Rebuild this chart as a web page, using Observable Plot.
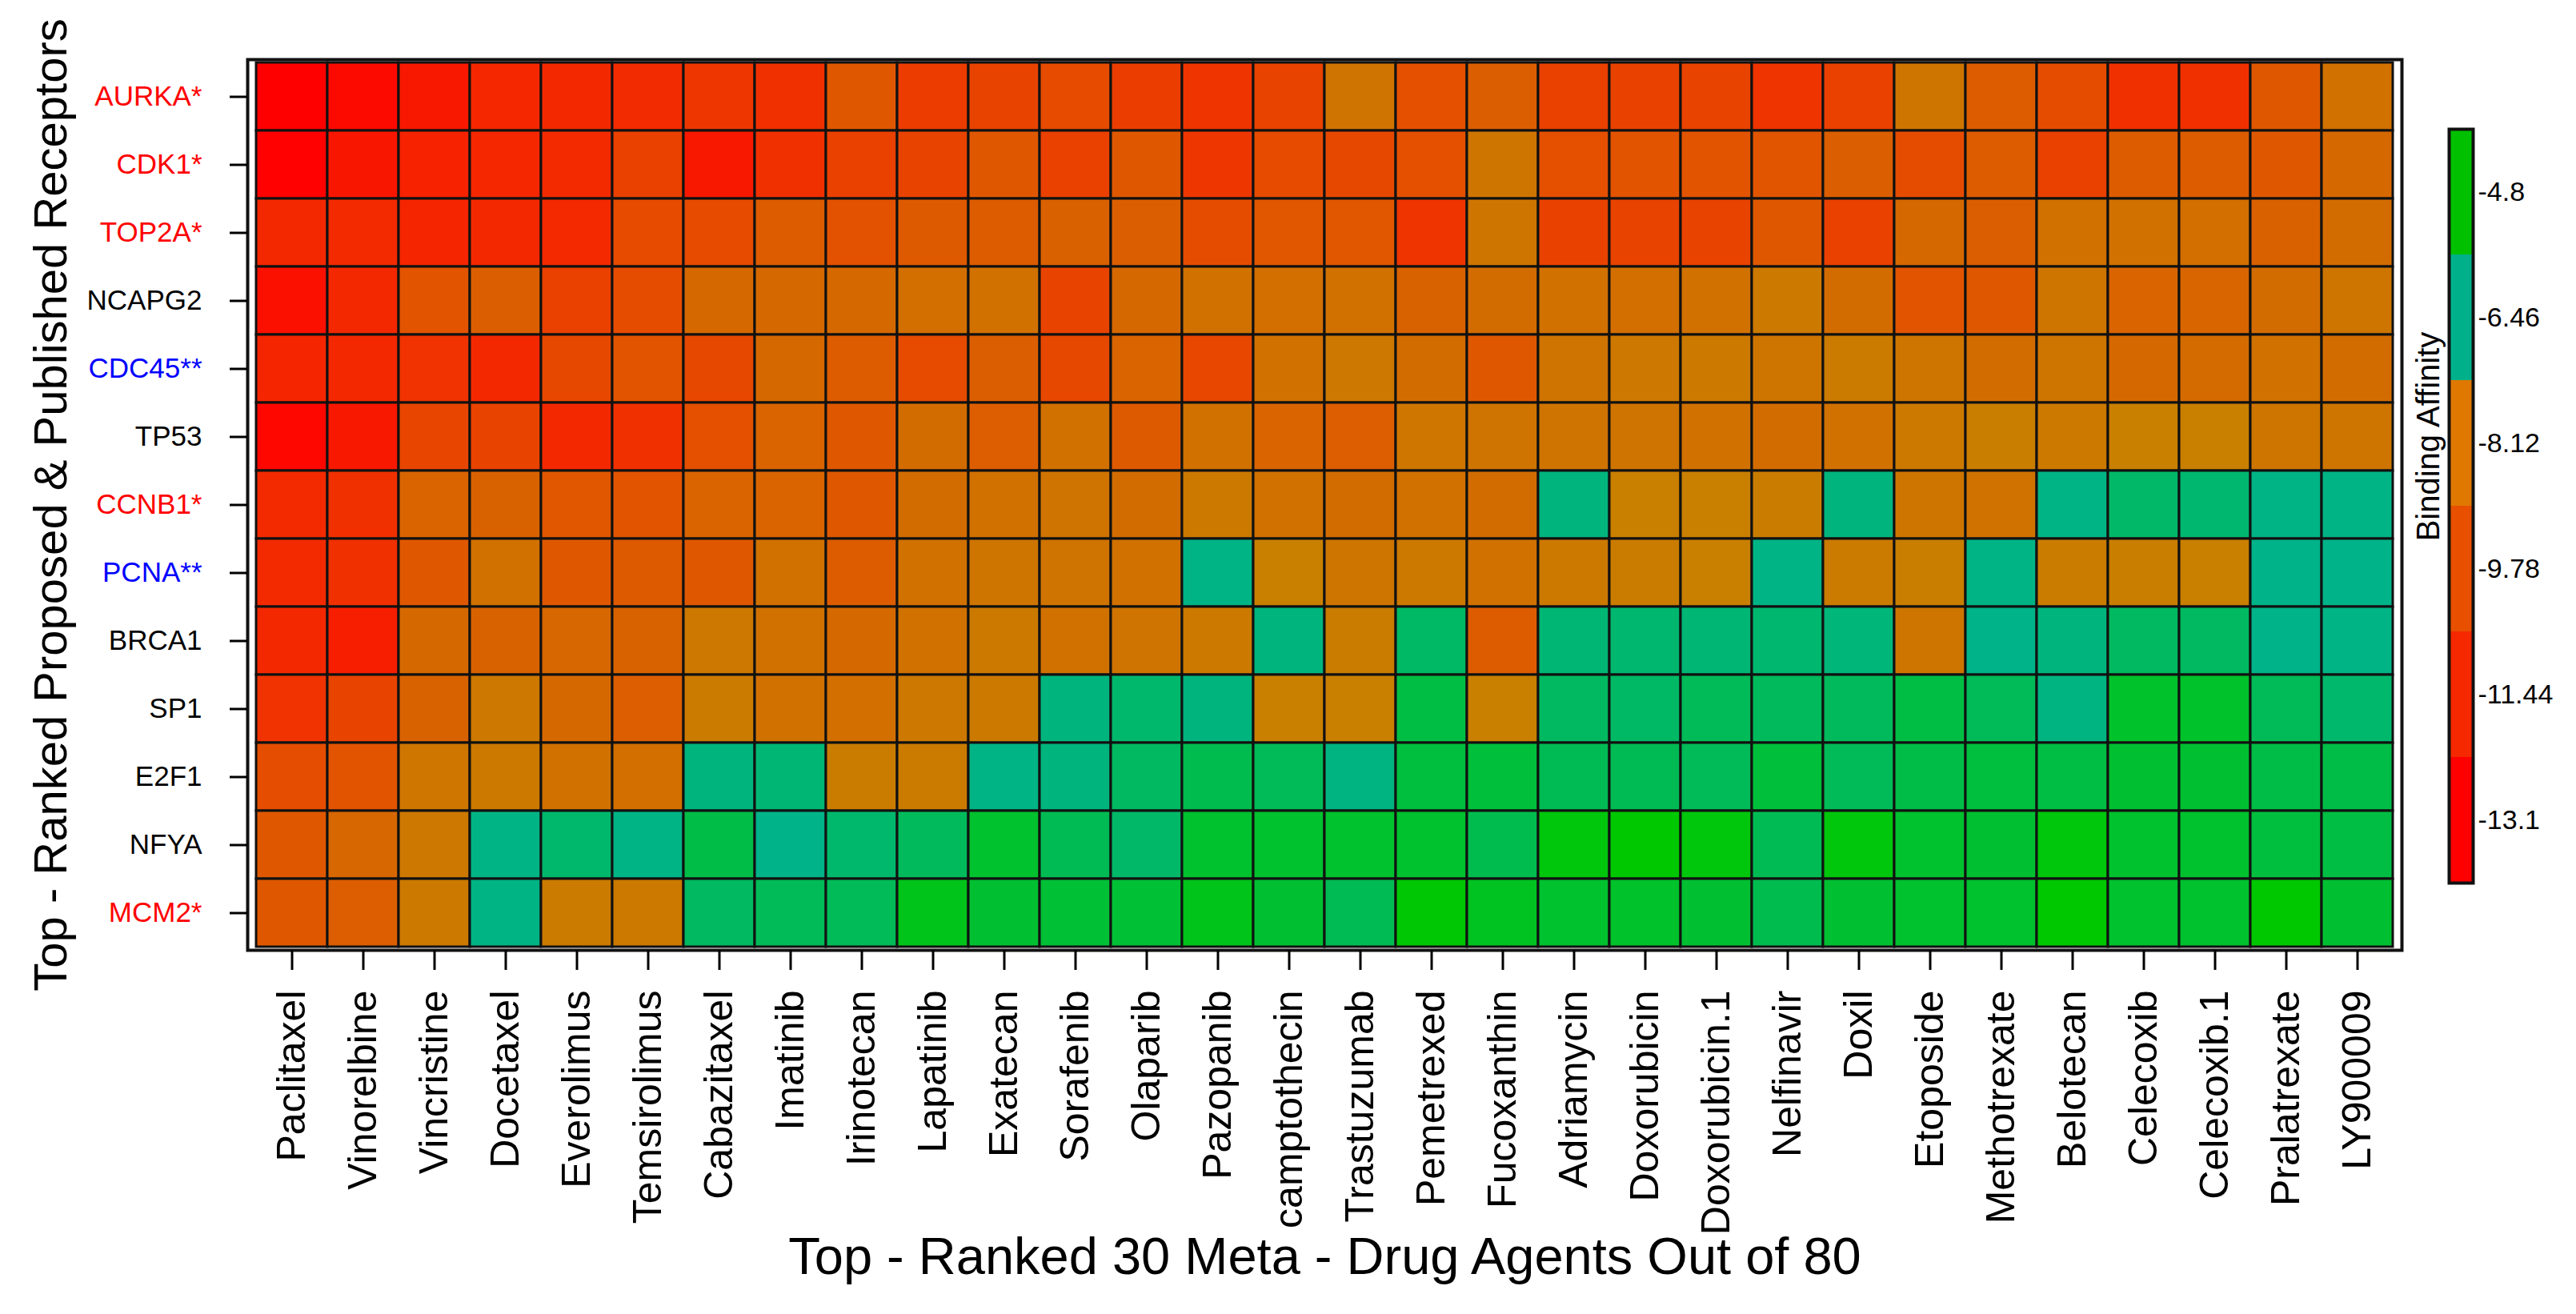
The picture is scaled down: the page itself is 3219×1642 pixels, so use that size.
<!DOCTYPE html>
<html>
<head>
<meta charset="utf-8">
<script src="https://cdn.jsdelivr.net/npm/d3@7"></script>
<script src="https://cdn.jsdelivr.net/npm/@observablehq/plot@0.6"></script>
<style>
html, body { margin: 0; padding: 0; background: #fff; }
#wrap { position: relative; width: 3219px; height: 1642px; overflow: hidden; background: #fff; }
#main { position: absolute; left: 0; top: 0; width: 3010px; }
#legend { position: absolute; left: 3000px; top: 0; width: 219px; }
</style>
</head>
<body>
<div id="wrap"><div id="main"></div><div id="legend"></div></div>
<script>
const drugs = ["Paclitaxel","Vinorelbine","Vincristine","Docetaxel","Everolimus","Temsirolimus","Cabazitaxel","Imatinib","Irinotecan","Lapatinib","Exatecan","Sorafenib","Olaparib","Pazopanib","camptothecin","Trastuzumab","Pemetrexed","Fucoxanthin","Adriamycin","Doxorubicin","Doxorubicin.1","Nelfinavir","Doxil","Etoposide","Methotrexate","Belotecan","Celecoxib","Celecoxib.1","Pralatrexate","LY900009"];

const receptors = ["AURKA*","CDK1*","TOP2A*","NCAPG2","CDC45**","TP53","CCNB1*","PCNA**","BRCA1","SP1","E2F1","NFYA","MCM2*"];

const redLabels = ["AURKA*","CDK1*","TOP2A*","CCNB1*","MCM2*"];
const blueLabels = ["CDC45**","PCNA**"];
const blackLabels = ["NCAPG2","TP53","BRCA1","SP1","E2F1","NFYA"];

const aurka  = [-13.1,-12.7,-12.1,-11.5,-11.45,-11.3,-10.8,-11.1,-9.5,-10.6,-10.3,-10.0,-10.55,-10.95,-10.3,-8.55,-9.8,-9.25,-10.45,-10.35,-10.3,-10.95,-10.45,-8.5,-9.35,-9.95,-11.1,-11.1,-9.5,-8.65];
const cdk1   = [-13.05,-12.2,-11.7,-11.5,-11.35,-10.45,-12.1,-11.1,-10.45,-10.3,-9.5,-10.45,-9.5,-10.8,-10.0,-10.1,-9.8,-8.5,-9.8,-9.65,-9.65,-9.6,-9.25,-9.95,-9.35,-10.45,-9.35,-9.35,-9.5,-8.95];
const top2a  = [-11.45,-11.35,-11.55,-11.45,-11.4,-10.0,-10.0,-9.35,-9.7,-9.45,-9.35,-9.2,-9.25,-9.95,-9.55,-9.55,-10.95,-8.5,-10.35,-10.3,-10.3,-9.5,-10.45,-8.95,-9.25,-8.65,-8.65,-8.7,-9.2,-8.8];
const ncapg2 = [-12.45,-11.45,-9.65,-9.25,-10.45,-9.95,-8.95,-8.9,-8.9,-8.7,-8.65,-10.3,-8.95,-8.65,-8.7,-8.65,-9.15,-8.8,-8.65,-8.7,-8.65,-8.35,-8.8,-9.65,-9.5,-8.5,-9.1,-9.05,-8.8,-8.5];
const cdc45  = [-11.55,-11.45,-11.0,-11.45,-10.1,-9.65,-10.1,-8.95,-9.35,-10.0,-9.25,-10.1,-9.1,-10.15,-8.65,-8.4,-8.8,-9.5,-8.55,-8.4,-8.35,-8.5,-8.3,-8.5,-8.8,-8.5,-8.9,-8.85,-8.65,-8.8];
const tp53   = [-12.8,-12.1,-10.2,-10.3,-11.45,-11.1,-9.8,-9.1,-9.5,-8.8,-9.3,-8.65,-9.45,-8.65,-9.1,-9.3,-8.45,-8.55,-8.55,-8.55,-8.65,-8.8,-8.65,-8.35,-8.2,-8.35,-8.15,-8.15,-8.5,-8.5];
const ccnb1  = [-11.35,-11.1,-9.1,-9.15,-9.55,-9.65,-9.1,-9.1,-9.5,-8.8,-8.65,-8.55,-8.8,-8.35,-8.65,-8.8,-8.65,-8.8,-6.3,-8.15,-8.15,-8.25,-6.3,-8.5,-8.6,-6.4,-6.05,-6.15,-6.4,-6.4];
const pcna   = [-11.35,-11.1,-9.5,-8.65,-9.5,-9.45,-9.5,-8.65,-9.35,-8.65,-8.5,-8.55,-8.65,-6.4,-8.15,-8.5,-8.35,-8.65,-8.35,-8.25,-8.15,-6.4,-8.3,-8.2,-6.4,-8.25,-8.2,-8.15,-6.45,-6.45];
const brca1  = [-11.45,-11.85,-8.9,-9.15,-9.0,-9.15,-8.4,-8.65,-8.9,-8.65,-8.35,-8.65,-8.55,-8.35,-6.3,-8.25,-6.0,-9.35,-6.2,-6.15,-6.2,-6.15,-6.25,-8.5,-6.45,-6.3,-5.95,-5.95,-6.45,-6.4];
const sp1    = [-11.0,-10.3,-9.15,-8.4,-8.95,-9.3,-8.3,-8.65,-8.7,-8.4,-8.35,-6.3,-6.1,-6.3,-8.15,-8.15,-5.6,-8.15,-5.95,-6.0,-5.85,-5.9,-5.9,-5.6,-5.85,-6.35,-5.3,-5.3,-5.85,-6.1];
const e2f1   = [-9.85,-9.65,-8.45,-8.35,-8.65,-8.7,-6.3,-6.2,-8.25,-8.3,-6.4,-6.3,-5.95,-5.75,-5.85,-6.35,-5.55,-5.5,-5.8,-5.8,-5.85,-5.5,-5.85,-5.65,-5.55,-5.6,-5.4,-5.4,-5.65,-5.65];
const nfya   = [-9.5,-9.0,-8.4,-6.4,-6.1,-6.4,-5.65,-6.45,-6.1,-5.9,-5.35,-5.8,-6.05,-5.35,-5.35,-5.35,-5.35,-5.75,-4.95,-4.8,-4.95,-5.8,-4.95,-5.35,-5.4,-4.95,-5.35,-5.35,-5.55,-5.6];
const mcm2   = [-9.5,-9.3,-8.35,-6.38,-8.3,-8.35,-5.95,-5.85,-5.85,-5.1,-5.4,-5.45,-5.45,-5.1,-5.4,-5.8,-4.85,-5.2,-5.35,-5.3,-5.4,-5.75,-5.4,-5.35,-5.35,-4.8,-5.35,-5.35,-4.8,-5.4];

const legendTicks = [-13.1, -11.44, -9.78, -8.12, -6.46, -4.8];

const rowValues = [aurka, cdk1, top2a, ncapg2, cdc45, tp53, ccnb1, pcna, brca1, sp1, e2f1, nfya, mcm2];
const cells = receptors.flatMap((r, i) => rowValues[i].map((v, j) => ({receptor: r, drug: drugs[j], value: v})));

const cellColor = {
  type: "linear",
  domain: legendTicks,
  range: ["#ff0000", "#f42800", "#e45000", "#c88000", "#00b38a", "#00c800"]
};
const legendColor = {
  type: "linear",
  domain: legendTicks,
  range: ["#ff0000", "#f52800", "#e85000", "#e07800", "#00b08a", "#00c000"]
};

const font = "'Liberation Sans', Arial, Helvetica, sans-serif";

const main = Plot.plot({
  width: 3010,
  height: 1642,
  marginLeft: 309,
  marginRight: 9,
  marginTop: 74,
  marginBottom: 455,
  style: {fontFamily: font, background: "white", color: "black", overflow: "visible"},
  x: {domain: drugs, padding: 0, axis: null},
  y: {domain: receptors, padding: 0, axis: null},
  color: cellColor,
  marks: [
    Plot.cell(cells, {x: "drug", y: "receptor", fill: "value", stroke: "#111", strokeWidth: 3}),
    Plot.frame({stroke: "#111", strokeWidth: 4}),
    Plot.axisX({tickRotate: -90, tickSize: 25, tickPadding: 25, fontSize: 50, strokeWidth: 3, label: null}),
    Plot.axisY({ticks: redLabels, tickSize: 22, tickPadding: 35, fontSize: 35, fill: "#ff0000", strokeWidth: 3, label: null}),
    Plot.axisY({ticks: blueLabels, tickSize: 22, tickPadding: 35, fontSize: 35, fill: "#0000ff", strokeWidth: 3, label: null}),
    Plot.axisY({ticks: blackLabels, tickSize: 22, tickPadding: 35, fontSize: 35, fill: "#000000", strokeWidth: 3, label: null}),
    Plot.text(["Top - Ranked Proposed & Published Receptors"], {text: d => d, frameAnchor: "left", textAnchor: "middle", rotate: -90, dx: -245, fontSize: 58, fill: "black"}),
    Plot.text(["Top - Ranked 30 Meta - Drug Agents Out of 80"], {text: d => d, frameAnchor: "bottom", textAnchor: "middle", dy: 404, fontSize: 65, fill: "black"})
  ]
});
document.getElementById("main").appendChild(main);

const legend = Plot.plot({
  width: 219,
  height: 1642,
  marginLeft: 60,
  marginRight: 129,
  marginTop: 161,
  marginBottom: 539,
  style: {fontFamily: font, background: "transparent", color: "black", overflow: "visible"},
  x: {axis: null},
  y: {type: "band", domain: legendTicks.slice().reverse(), padding: 0, axis: null},
  color: legendColor,
  marks: [
    Plot.cell(legendTicks, {y: d => d, fill: d => d}),
    Plot.frame({stroke: "#111", strokeWidth: 4}),
    Plot.axisY({anchor: "right", tickSize: 0, tickPadding: 6, fontSize: 34, tickFormat: d => String(d), label: null}),
    Plot.text(["Binding Affinity"], {text: d => d, frameAnchor: "left", textAnchor: "middle", rotate: -90, dx: -25, dy: -87, fontSize: 40, fill: "black"})
  ]
});
document.getElementById("legend").appendChild(legend);
</script>
</body>
</html>
